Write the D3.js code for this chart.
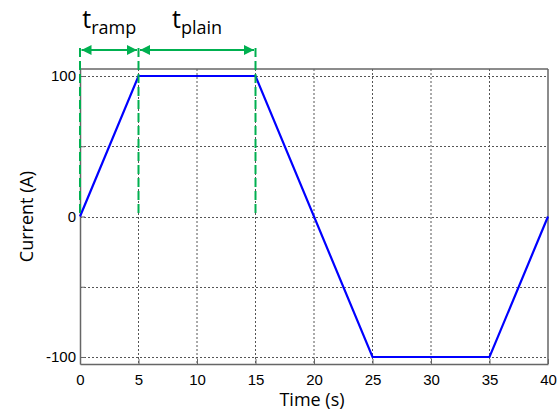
<!DOCTYPE html>
<html>
<head>
<meta charset="utf-8">
<script src="https://cdn.jsdelivr.net/npm/d3@7"></script>
<style>
  body { margin: 0; background: #fff; }
  text { font-family: "Liberation Sans", Arial, sans-serif; }
</style>
</head>
<body>
<svg id="chart" width="560" height="414"></svg>
<script>
// data
var timeVals = [0, 5, 15, 25, 35, 40];
var currentVals = [0, 100, 100, -100, -100, 0];
var xTicks = [0, 5, 10, 15, 20, 25, 30, 35, 40];
var yTicks = [-100, -50, 0, 50, 100];
var yLabels = [-100, 0, 100];
// annotation markers (time values)
var markTimes = [0, 5, 15];
var spans = [
  {from: 0, to: 5, main: "t", sub: "ramp"},
  {from: 5, to: 15, main: "t", sub: "plain"}
];

var margin = {top: 69, right: 12, bottom: 50, left: 80},
    width = 560 - margin.left - margin.right,
    height = 414 - margin.top - margin.bottom;

var svg = d3.select("#chart")
  .append("g")
    .attr("transform", "translate(" + margin.left + "," + margin.top + ")");

var x = d3.scaleLinear().domain([0, 40]).range([0, width]);
var y = d3.scaleLinear().domain([-105, 105]).range([height, 0]);

// grid
svg.append("g").selectAll("line")
  .data(xTicks.slice(1, -1))
  .enter().append("line")
    .attr("x1", d => x(d)).attr("x2", d => x(d))
    .attr("y1", 0).attr("y2", height)
    .attr("stroke", "#555").attr("stroke-width", 1)
    .attr("stroke-dasharray", "2,2");

svg.append("g").selectAll("line")
  .data(yTicks)
  .enter().append("line")
    .attr("x1", 0).attr("x2", width)
    .attr("y1", d => Math.round(y(d)) + 0.5).attr("y2", d => Math.round(y(d)) + 0.5)
    .attr("stroke", "#555").attr("stroke-width", 1)
    .attr("stroke-dasharray", "2,2");

// axes
var xAxis = svg.append("g")
  .attr("transform", "translate(0," + height + ")")
  .call(d3.axisBottom(x).tickValues(xTicks).tickSizeInner(-5).tickSizeOuter(0).tickPadding(10));

var yAxis = svg.append("g")
  .call(d3.axisLeft(y).tickValues(yTicks).tickSizeInner(-5).tickSizeOuter(0).tickPadding(4)
    .tickFormat(d => yLabels.indexOf(d) >= 0 ? d : ""));

[xAxis, yAxis].forEach(function(a) {
  a.select(".domain").attr("stroke", "#666").attr("stroke-width", 1.5);
  a.selectAll(".tick line").attr("stroke", "#666");
  a.selectAll(".tick text").attr("fill", "#000").style("font-size", "15px")
    .style("font-family", "'Liberation Sans', Arial, sans-serif");
});

// top & right box
svg.append("line").attr("x1", 0).attr("x2", width).attr("y1", 0).attr("y2", 0)
  .attr("stroke", "#666").attr("stroke-width", 1.5);
svg.append("line").attr("x1", width).attr("x2", width).attr("y1", 0).attr("y2", height)
  .attr("stroke", "#666").attr("stroke-width", 1.5);

// axis labels
svg.append("text")
  .attr("x", width / 2 - 2).attr("y", height + 42)
  .attr("text-anchor", "middle")
  .style("font-size", "18px")
  .style("font-family", "'Open Sans', sans-serif")
  .text("Time (s)");

svg.append("text")
  .attr("transform", "translate(-47," + y(0) + ") rotate(-90)")
  .attr("text-anchor", "middle")
  .style("font-size", "18px")
  .style("font-family", "'Open Sans', sans-serif")
  .text("Current (A)");

// current curve
var line = d3.line()
  .x((d, i) => x(timeVals[i]))
  .y((d, i) => y(currentVals[i]));

svg.append("path")
  .datum(timeVals)
  .attr("fill", "none")
  .attr("stroke", "#0000ff")
  .attr("stroke-width", 2.2)
  .attr("d", line);

// annotations
var green = "#00b050";
var arrowY = -19;

svg.append("g").selectAll("line")
  .data(markTimes)
  .enter().append("line")
    .attr("x1", d => x(d)).attr("x2", d => x(d))
    .attr("y1", -21).attr("y2", y(0))
    .attr("stroke", green).attr("stroke-width", 2)
    .attr("stroke-dasharray", "9,4");

var defs = d3.select("#chart").append("defs");
defs.append("marker")
  .attr("id", "ah")
  .attr("viewBox", "0 0 10 10")
  .attr("refX", 10).attr("refY", 5)
  .attr("markerWidth", 5).attr("markerHeight", 5)
  .attr("orient", "auto-start-reverse")
  .append("path").attr("d", "M0,0L10,5L0,10Z").attr("fill", green);

svg.append("g").selectAll("line")
  .data(spans)
  .enter().append("line")
    .attr("x1", d => x(d.from) + 1.5).attr("x2", d => x(d.to) - 1.5)
    .attr("y1", arrowY).attr("y2", arrowY)
    .attr("stroke", green).attr("stroke-width", 2)
    .attr("marker-start", "url(#ah)")
    .attr("marker-end", "url(#ah)");

var lbl = svg.append("g").selectAll("text")
  .data(spans)
  .enter().append("text")
    .attr("x", d => (x(d.from) + x(d.to)) / 2)
    .attr("y", -41)
    .attr("text-anchor", "middle")
    .style("font-family", "'Open Sans', sans-serif");
lbl.append("tspan").style("font-size", "25px").text(d => d.main);
lbl.append("tspan").attr("dy", 6).style("font-size", "18px").text(d => d.sub);
</script>
</body>
</html>
